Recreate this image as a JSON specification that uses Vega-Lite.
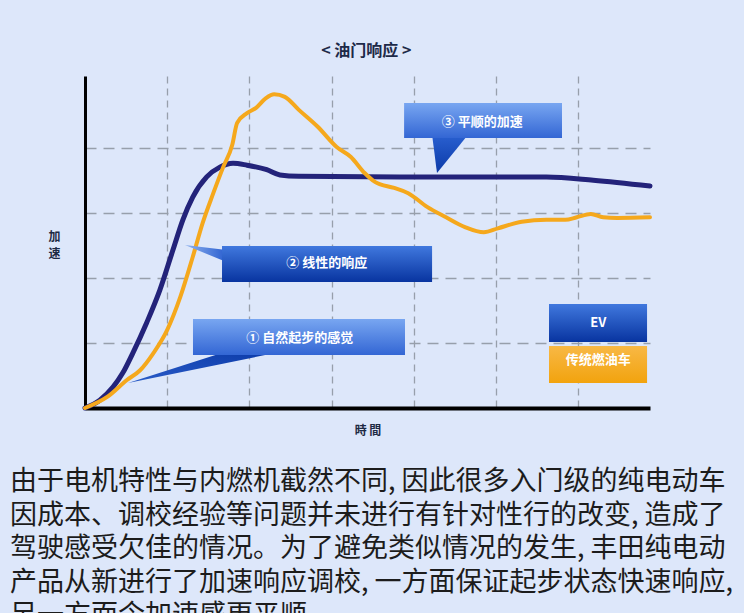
{
  "$schema": "https://vega.github.io/schema/vega-lite/v6.json",
  "width": 565,
  "height": 332,
  "autosize": "none",
  "padding": {"left": 85, "top": 76, "right": 94, "bottom": 205},
  "background": "#dde7fa",
  "title": {
    "text": [
      "由于电机特性与内燃机截然不同, 因此很多入门级的纯电动车",
      "因成本、调校经验等问题并未进行有针对性行的改变, 造成了",
      "驾驶感受欠佳的情况。为了避免类似情况的发生, 丰田纯电动",
      "产品从新进行了加速响应调校, 一方面保证起步状态快速响应,",
      "另一方面令加速感更平顺。"
    ],
    "orient": "bottom",
    "anchor": "start",
    "frame": "group",
    "dx": -75,
    "offset": 33,
    "font": "Noto Sans CJK SC",
    "fontSize": 27,
    "fontWeight": "normal",
    "color": "#1c1c1c",
    "lineHeight": 33.5
  },
  "config": {
    "view": {"stroke": null},
    "text": {"font": "Noto Sans CJK SC"}
  },
  "datasets": {
    "curves": [
      {"car": "EV", "t": 0, "a": 0},
      {"car": "EV", "t": 0.18, "a": 0.12},
      {"car": "EV", "t": 0.34, "a": 0.32},
      {"car": "EV", "t": 0.46, "a": 0.54},
      {"car": "EV", "t": 0.58, "a": 0.84},
      {"car": "EV", "t": 0.75, "a": 1.31},
      {"car": "EV", "t": 0.91, "a": 1.81},
      {"car": "EV", "t": 1.07, "a": 2.43},
      {"car": "EV", "t": 1.19, "a": 2.89},
      {"car": "EV", "t": 1.31, "a": 3.24},
      {"car": "EV", "t": 1.48, "a": 3.55},
      {"car": "EV", "t": 1.64, "a": 3.70},
      {"car": "EV", "t": 1.80, "a": 3.76},
      {"car": "EV", "t": 1.97, "a": 3.73},
      {"car": "EV", "t": 2.21, "a": 3.66},
      {"car": "EV", "t": 2.37, "a": 3.58},
      {"car": "EV", "t": 2.60, "a": 3.56},
      {"car": "EV", "t": 3.83, "a": 3.55},
      {"car": "EV", "t": 5.61, "a": 3.55},
      {"car": "EV", "t": 6.18, "a": 3.50},
      {"car": "EV", "t": 6.87, "a": 3.41},
      {"car": "传统燃油车", "t": 0, "a": 0},
      {"car": "传统燃油车", "t": 0.27, "a": 0.17},
      {"car": "传统燃油车", "t": 0.51, "a": 0.43},
      {"car": "传统燃油车", "t": 0.67, "a": 0.58},
      {"car": "传统燃油车", "t": 0.83, "a": 0.84},
      {"car": "传统燃油车", "t": 1.00, "a": 1.20},
      {"car": "传统燃油车", "t": 1.16, "a": 1.71},
      {"car": "传统燃油车", "t": 1.31, "a": 2.32},
      {"car": "传统燃油车", "t": 1.43, "a": 2.84},
      {"car": "传统燃油车", "t": 1.56, "a": 3.30},
      {"car": "传统燃油车", "t": 1.68, "a": 3.70},
      {"car": "传统燃油车", "t": 1.79, "a": 4.04},
      {"car": "传统燃油车", "t": 1.85, "a": 4.38},
      {"car": "传统燃油车", "t": 1.97, "a": 4.53},
      {"car": "传统燃油车", "t": 2.08, "a": 4.61},
      {"car": "传统燃油车", "t": 2.20, "a": 4.76},
      {"car": "传统燃油车", "t": 2.30, "a": 4.82},
      {"car": "传统燃油车", "t": 2.43, "a": 4.78},
      {"car": "传统燃油车", "t": 2.60, "a": 4.58},
      {"car": "传统燃油车", "t": 2.83, "a": 4.32},
      {"car": "传统燃油车", "t": 3.06, "a": 4.01},
      {"car": "传统燃油车", "t": 3.23, "a": 3.86},
      {"car": "传统燃油车", "t": 3.40, "a": 3.61},
      {"car": "传统燃油车", "t": 3.53, "a": 3.47},
      {"car": "传统燃油车", "t": 3.76, "a": 3.38},
      {"car": "传统燃油车", "t": 3.93, "a": 3.30},
      {"car": "传统燃油车", "t": 4.16, "a": 3.09},
      {"car": "传统燃油车", "t": 4.39, "a": 2.93},
      {"car": "传统燃油车", "t": 4.62, "a": 2.78},
      {"car": "传统燃油车", "t": 4.85, "a": 2.70},
      {"car": "传统燃油车", "t": 5.02, "a": 2.76},
      {"car": "传统燃油车", "t": 5.31, "a": 2.86},
      {"car": "传统燃油车", "t": 5.61, "a": 2.89},
      {"car": "传统燃油车", "t": 5.84, "a": 2.89},
      {"car": "传统燃油车", "t": 5.98, "a": 2.93},
      {"car": "传统燃油车", "t": 6.15, "a": 2.98},
      {"car": "传统燃油车", "t": 6.30, "a": 2.93},
      {"car": "传统燃油车", "t": 6.47, "a": 2.92},
      {"car": "传统燃油车", "t": 6.87, "a": 2.93}
    ],
    "boxes": [
      {"name": "smooth", "label": "③ 平顺的加速", "t": 3.88, "t2": 5.80, "a": 4.685, "a2": 4.147, "tc": 4.83, "ac": 4.40},
      {"name": "linear", "label": "② 线性的响应", "t": 1.666, "t2": 4.22, "a": 2.488, "a2": 1.935, "tc": 2.94, "ac": 2.22},
      {"name": "natural", "label": "① 自然起步的感觉", "t": 1.313, "t2": 3.891, "a": 1.367, "a2": 0.814, "tc": 2.61, "ac": 1.07},
      {"name": "EV", "label": "EV", "t": 5.642, "t2": 6.834, "a": 1.598, "a2": 1.014, "tc": 6.24, "ac": 1.31},
      {"name": "ICE", "label": "传统燃油车", "t": 5.642, "t2": 6.834, "a": 0.952, "a2": 0.384, "tc": 6.24, "ac": 0.74}
    ],
    "pointerH": [
      {"name": "smooth", "a": 4.20, "t": 4.22, "t2": 4.66},
      {"name": "smooth", "a": 3.61, "t": 4.28, "t2": 4.28},
      {"name": "natural", "a": 0.86, "t": 1.70, "t2": 2.37},
      {"name": "natural", "a": 0.384, "t": 0.523, "t2": 0.523}
    ],
    "pointerV": [
      {"t": 1.216, "a": 2.504, "a2": 2.504},
      {"t": 1.72, "a": 2.427, "a2": 2.243}
    ],
    "heading": [
      {"text": "< 油门响应 >", "t": 3.42, "a": 5.48}
    ]
  },
  "layer": [
    {
      "data": {"name": "curves"},
      "transform": [{"filter": "datum.car === 'EV'"}],
      "mark": {"type": "line", "interpolate": "monotone", "strokeWidth": 5, "strokeCap": "round", "color": "#23237a"},
      "encoding": {
        "x": {
          "field": "t", "type": "quantitative",
          "scale": {"domain": [0, 6.87], "nice": false, "zero": false},
          "axis": {
            "title": "時  間", "values": [1, 2, 3, 4, 5, 6],
            "labels": false, "ticks": false,
            "grid": true, "gridDash": [7, 5], "gridColor": "#979fab", "gridWidth": 1.3,
            "domainColor": "#000000", "domainWidth": 4,
            "titleFont": "Noto Sans CJK SC", "titleFontSize": 12, "titleFontWeight": "bold",
            "titleColor": "#1d2a44", "titlePadding": 17
          }
        },
        "y": {
          "field": "a", "type": "quantitative",
          "scale": {"domain": [0, 5.1], "nice": false},
          "axis": {
            "title": ["加", "速"], "titleAngle": 0, "titleAlign": "center", "titleBaseline": "middle",
            "titleLineHeight": 17, "titlePadding": 14, "titleY": 160,
            "values": [1, 2, 3, 4],
            "labels": false, "ticks": false,
            "grid": true, "gridDash": [11, 7], "gridColor": "#979fab", "gridWidth": 1.3,
            "domainColor": "#000000", "domainWidth": 3,
            "titleFont": "Noto Sans CJK SC", "titleFontSize": 12, "titleFontWeight": "bold",
            "titleColor": "#1d2a44"
          }
        }
      }
    },
    {
      "data": {"name": "curves"},
      "transform": [{"filter": "datum.car !== 'EV'"}],
      "mark": {"type": "line", "interpolate": "monotone", "strokeWidth": 4, "strokeCap": "round", "color": "#f5a81c"},
      "encoding": {
        "x": {"field": "t", "type": "quantitative"},
        "y": {"field": "a", "type": "quantitative"}
      }
    },
    {
      "data": {"name": "boxes"},
      "mark": {"type": "rect", "color": "#6f7f9f", "opacity": 0.35, "xOffset": 2, "yOffset": 3},
      "encoding": {
        "x": {"field": "t", "type": "quantitative"},
        "x2": {"field": "t2"},
        "y": {"field": "a", "type": "quantitative"},
        "y2": {"field": "a2"}
      }
    },
    {
      "data": {"name": "pointerH"},
      "transform": [{"filter": {"field": "name", "equal": "smooth"}}],
      "mark": {"type": "area", "orient": "horizontal", "color": {"gradient": "linear", "x1": 0, "y1": 0, "x2": 0, "y2": 1, "stops": [{"offset": 0, "color": "#2a60d0"}, {"offset": 1, "color": "#0b3aa8"}]}},
      "encoding": {
        "y": {"field": "a", "type": "quantitative"},
        "x": {"field": "t", "type": "quantitative"},
        "x2": {"field": "t2"}
      }
    },
    {
      "data": {"name": "pointerH"},
      "transform": [{"filter": {"field": "name", "equal": "natural"}}],
      "mark": {"type": "area", "orient": "horizontal", "color": {"gradient": "linear", "x1": 1, "y1": 0, "x2": 0, "y2": 1, "stops": [{"offset": 0, "color": "#0b3aa8"}, {"offset": 1, "color": "#2a5cc8"}]}},
      "encoding": {
        "y": {"field": "a", "type": "quantitative"},
        "x": {"field": "t", "type": "quantitative"},
        "x2": {"field": "t2"}
      }
    },
    {
      "data": {"name": "pointerV"},
      "mark": {"type": "area", "orient": "vertical", "color": {"gradient": "linear", "x1": 0, "y1": 0, "x2": 1, "y2": 0, "stops": [{"offset": 0, "color": "#8fb2ee"}, {"offset": 1, "color": "#2a5fd0"}]}},
      "encoding": {
        "x": {"field": "t", "type": "quantitative"},
        "y": {"field": "a", "type": "quantitative"},
        "y2": {"field": "a2"}
      }
    },
    {
      "data": {"name": "boxes"},
      "transform": [{"filter": {"field": "name", "oneOf": ["smooth", "natural"]}}],
      "mark": {"type": "rect", "color": {"gradient": "linear", "x1": 0, "y1": 0, "x2": 0, "y2": 1, "stops": [{"offset": 0, "color": "#78a6f1"}, {"offset": 1, "color": "#3366d4"}]}},
      "encoding": {
        "x": {"field": "t", "type": "quantitative"},
        "x2": {"field": "t2"},
        "y": {"field": "a", "type": "quantitative"},
        "y2": {"field": "a2"}
      }
    },
    {
      "data": {"name": "boxes"},
      "transform": [{"filter": {"field": "name", "oneOf": ["linear", "EV"]}}],
      "mark": {"type": "rect", "color": {"gradient": "linear", "x1": 0, "y1": 0, "x2": 0, "y2": 1, "stops": [{"offset": 0, "color": "#4078de"}, {"offset": 1, "color": "#0834a0"}]}},
      "encoding": {
        "x": {"field": "t", "type": "quantitative"},
        "x2": {"field": "t2"},
        "y": {"field": "a", "type": "quantitative"},
        "y2": {"field": "a2"}
      }
    },
    {
      "data": {"name": "boxes"},
      "transform": [{"filter": {"field": "name", "equal": "ICE"}}],
      "mark": {"type": "rect", "color": {"gradient": "linear", "x1": 0, "y1": 0, "x2": 0, "y2": 1, "stops": [{"offset": 0, "color": "#f8b845"}, {"offset": 1, "color": "#f2a30e"}]}},
      "encoding": {
        "x": {"field": "t", "type": "quantitative"},
        "x2": {"field": "t2"},
        "y": {"field": "a", "type": "quantitative"},
        "y2": {"field": "a2"}
      }
    },
    {
      "data": {"name": "boxes"},
      "mark": {"type": "text", "color": "#ffffff", "fontWeight": "bold", "fontSize": 13, "align": "center", "baseline": "middle"},
      "encoding": {
        "x": {"field": "tc", "type": "quantitative"},
        "y": {"field": "ac", "type": "quantitative"},
        "text": {"field": "label"}
      }
    },
    {
      "data": {"name": "heading"},
      "mark": {"type": "text", "color": "#1d2a48", "fontWeight": "bold", "fontSize": 16, "align": "center", "baseline": "middle"},
      "encoding": {
        "x": {"field": "t", "type": "quantitative"},
        "y": {"field": "a", "type": "quantitative"},
        "text": {"field": "text"}
      }
    }
  ]
}
